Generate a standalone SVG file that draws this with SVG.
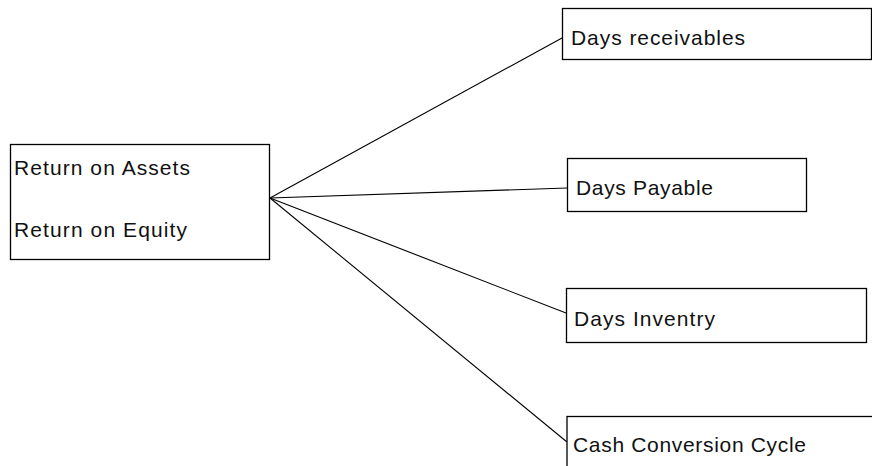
<svg xmlns="http://www.w3.org/2000/svg" width="872" height="466" viewBox="0 0 872 466">
<style>
.box{fill:#fff;stroke:#000;stroke-width:1.3}
.t{font-family:"Liberation Sans",Arial,sans-serif;font-size:21px;fill:#111}
.c{stroke:#000;stroke-width:1.1;fill:none}
</style>
<rect width="872" height="466" fill="#fff"/>
<g id="connectors">
<line class="c" x1="270" y1="198" x2="562" y2="38"/>
<line class="c" x1="270" y1="198" x2="567" y2="188"/>
<line class="c" x1="270" y1="198" x2="566" y2="313"/>
<line class="c" x1="270" y1="198" x2="567" y2="442"/>
</g>
<g id="returns">
<rect class="box" x="10.5" y="144.5" width="259" height="115"/>
<text class="t" x="14" y="175" textLength="176" lengthAdjust="spacing">Return on Assets</text>
<text class="t" x="14" y="237" textLength="173" lengthAdjust="spacing">Return on Equity</text>
</g>
<g id="days-receivables">
<rect class="box" x="562.5" y="8.5" width="309" height="51"/>
<text class="t" x="571" y="45" textLength="174" lengthAdjust="spacing">Days receivables</text>
</g>
<g id="days-payable">
<rect class="box" x="567.5" y="158.5" width="239" height="53"/>
<text class="t" x="576" y="195" textLength="137" lengthAdjust="spacing">Days Payable</text>
</g>
<g id="days-inventry">
<rect class="box" x="566.5" y="288.5" width="300" height="54"/>
<text class="t" x="574" y="326" textLength="141" lengthAdjust="spacing">Days Inventry</text>
</g>
<g id="cash-conversion-cycle">
<rect class="box" x="567" y="416.5" width="320" height="80"/>
<text class="t" x="573" y="452" textLength="233" lengthAdjust="spacing">Cash Conversion Cycle</text>
</g>
</svg>
